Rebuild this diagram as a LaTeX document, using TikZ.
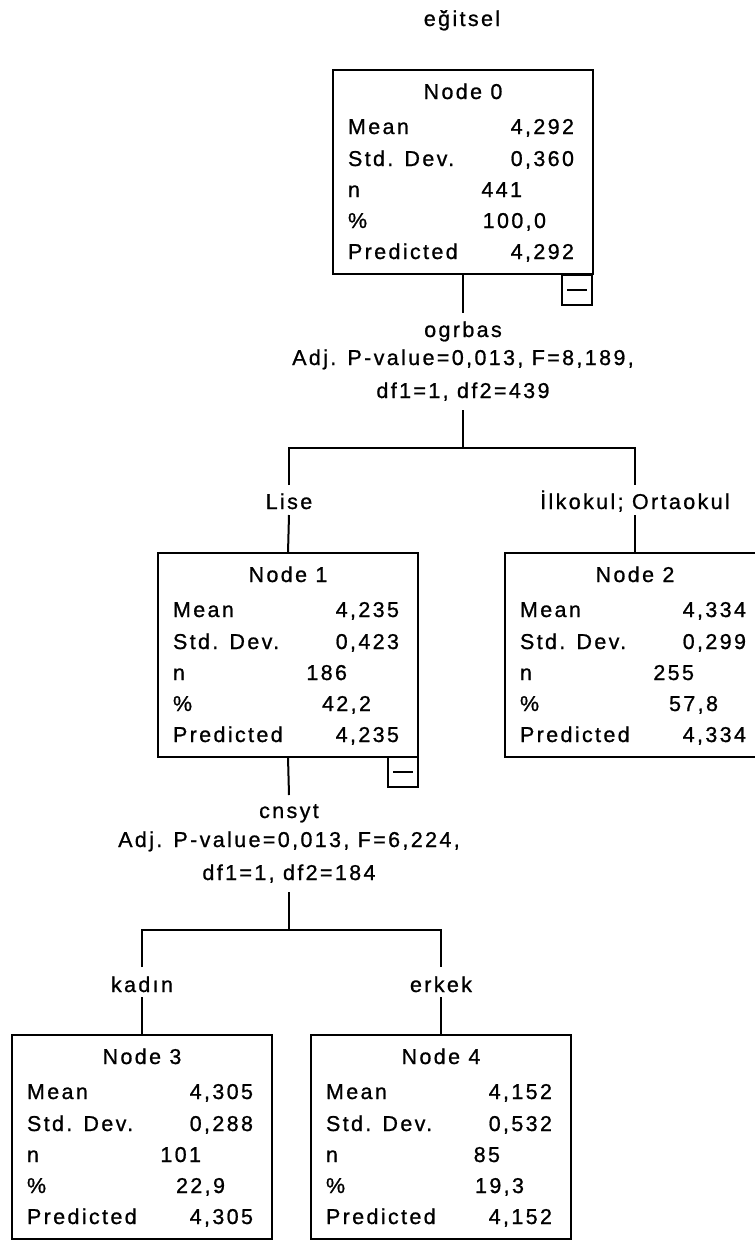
\documentclass[tikz,border=0pt]{standalone}
\usepackage{fontspec}
\setmainfont{Liberation Sans}[LetterSpace=11,FakeBold=0.9]
\newcommand\statbox[9]{%
  \node[box] (#1) at (#2,#3) {};
  \node[txt,anchor=base] (#1-t) at (#2+130,#3+29) {#4};
  \node[txt,anchor=base west] (#1-a) at (#2+15,#3+64) {Mean};
  \node[txt,anchor=base east] (#1-av) at (#2+241,#3+64) {#5};
  \node[txt,anchor=base west] (#1-b) at (#2+15,#3+96) {Std. Dev.};
  \node[txt,anchor=base east] (#1-bv) at (#2+241,#3+96) {#6};
  \node[txt,anchor=base west] (#1-c) at (#2+15,#3+127) {n};
  \node[txt,anchor=base east] (#1-cv) at (#2+189,#3+127) {#7};
  \node[txt,anchor=base west] (#1-d) at (#2+15,#3+158) {\%};
  \node[txt,anchor=base east] (#1-dv) at (#2+213,#3+158) {#8};
  \node[txt,anchor=base west] (#1-e) at (#2+15,#3+189) {Predicted};
  \node[txt,anchor=base east] (#1-ev) at (#2+241,#3+189) {#9};
}
\begin{document}
\begin{tikzpicture}[x=1pt,y=-1pt,line width=2pt,
  box/.style={draw, minimum width=260pt, minimum height=204pt, anchor=north west, inner sep=0pt, outer sep=0pt},
  txt/.style={inner sep=0pt, outer sep=0pt, font=\fontsize{21.5}{25}\selectfont},
  minusbox/.style={draw, minimum size=30pt, anchor=north east, inner sep=0pt, outer sep=0pt},
  conn/.style={line width=2pt}]
\useasboundingbox (0,0) rectangle (755,1240);
\clip (0,0) rectangle (755,1240);
\fill[white] (0,0) rectangle (755,1240);

\node[txt,anchor=base] (title) at (462,26) {eğitsel};

\statbox{n0}{333}{70}{Node 0}{4,292}{0,360}{441}{100,0}{4,292}
\statbox{n1}{158}{553}{Node 1}{4,235}{0,423}{186}{42,2}{4,235}
\statbox{n2}{505}{553}{Node 2}{4,334}{0,299}{255}{57,8}{4,334}
\statbox{n3}{12}{1035}{Node 3}{4,305}{0,288}{101}{22,9}{4,305}
\statbox{n4}{311}{1035}{Node 4}{4,152}{0,532}{85}{19,3}{4,152}

% collapse boxes
\node[minusbox] (m0) at (592,275) {};
\draw ([xshift=5pt]m0.west) -- ([xshift=-5pt]m0.east);
\node[minusbox] (m1) at (418,757) {};
\draw ([xshift=5pt]m1.west) -- ([xshift=-5pt]m1.east);

% split 0
\node[txt,anchor=base] (s0a) at (463,337) {ogrbas};
\node[txt,anchor=base] (s0b) at (463,365) {Adj. P-value=0,013, F=8,189,};
\node[txt,anchor=base] (s0c) at (463,398) {df1=1, df2=439};
\coordinate (a0) at (463,313);
\coordinate (b0) at (463,410);
\coordinate (j0) at (463,448);
\coordinate (l1) at (289,485);
\coordinate (r2) at (635,485);
\coordinate (c1) at (289,515);
\coordinate (c2) at (635,515);
\node[txt,anchor=base] (lise) at (289,509) {Lise};
\node[txt,anchor=base] (ilk) at (635,509) {İlkokul; Ortaokul};
\draw[conn] (n0.south) -- (a0);
\draw[conn] (b0) -- (j0);
\draw[conn] (l1) |- (j0) -| (r2);
\draw[conn] (c1) -- (n1.north);
\draw[conn] (c2) -- (n2.north);

% split 1
\node[txt,anchor=base] (s1a) at (289,818) {cnsyt};
\node[txt,anchor=base] (s1b) at (289,847) {Adj. P-value=0,013, F=6,224,};
\node[txt,anchor=base] (s1c) at (289,880) {df1=1, df2=184};
\coordinate (a1) at (289,795);
\coordinate (b1) at (289,892);
\coordinate (j1) at (289,930);
\coordinate (l3) at (142,967);
\coordinate (r4) at (441,967);
\coordinate (c3) at (142,997);
\coordinate (c4) at (441,997);
\node[txt,anchor=base] (kadin) at (142,992) {kadın};
\node[txt,anchor=base] (erkek) at (441,992) {erkek};
\draw[conn] (n1.south) -- (a1);
\draw[conn] (b1) -- (j1);
\draw[conn] (l3) |- (j1) -| (r4);
\draw[conn] (c3) -- (n3.north);
\draw[conn] (c4) -- (n4.north);
\end{tikzpicture}
\end{document}
